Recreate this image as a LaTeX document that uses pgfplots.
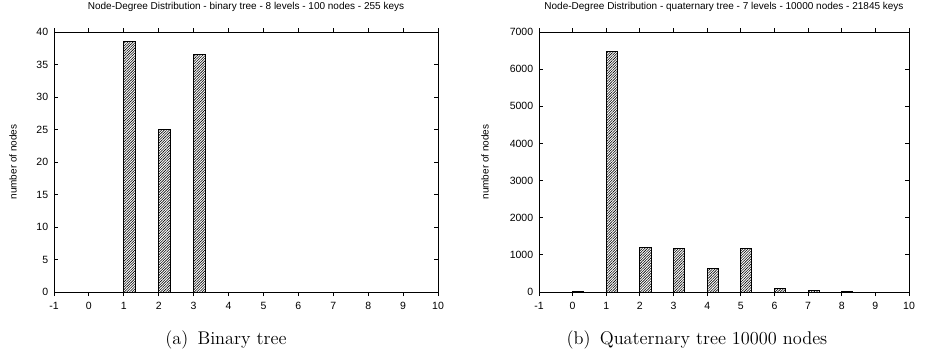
\documentclass[border=0pt]{standalone}
\usepackage{pgfplots}
\pgfplotsset{compat=1.18}
\usetikzlibrary{patterns.meta}
\usepackage{fontspec}
\newfontfamily\arial{Liberation Sans}

\pgfplotsset{
  gnu/.style={
    scale only axis,
    anchor=south west,
    height=156pt,
    xmin=-1, xmax=10,
    xtick={-1,0,...,10},
    ymin=0,
    axis line style={line width=0.6pt},
    major tick length=2.4pt,
    tick style={line width=0.5pt,black},
    ticklabel style={font=\arial\fontsize{6.3}{7}\selectfont},
    /pgf/number format/assume math mode=true,
    /pgf/number format/1000 sep={},
    title style={font=\arial\fontsize{6}{7}\selectfont,at={(0.5,1)},anchor=base,yshift=7.6pt},
    ybar, bar width=0.33, bar shift=0.165,
  },
  hatch/.style={draw=black, line width=0.6pt,
    pattern={Lines[angle=45,distance=1.1pt,line width=0.35pt]}},
}

\begin{document}
\begin{tikzpicture}
\path[use as bounding box] (0,0) rectangle (558pt,-212.4pt);

% (a) binary tree
\begin{axis}[gnu, at={(32.4pt,-175.2pt)}, width=230.4pt,
  ymax=40, ytick={0,5,...,40},
  title={Node-Degree Distribution - binary tree - 8 levels - 100 nodes - 255 keys}]
  \addplot[hatch] coordinates {(0,0) (1,38.5) (2,25) (3,36.5)};
\end{axis}
\node[rotate=90,font=\arial\fontsize{6}{7}\selectfont] at (7.8pt,-97.2pt) {number of nodes};
\node[font=\fontsize{11}{13}\selectfont] at (135.6pt,-204pt) {(a)\enspace Binary tree};

% (b) quaternary tree
\begin{axis}[gnu, at={(323.4pt,-175.2pt)}, width=222pt,
  ymax=7000, ytick={0,1000,...,7000},
  title={Node-Degree Distribution - quaternary tree - 7 levels - 10000 nodes - 21845 keys}]
  \addplot[hatch] coordinates {(0,10) (1,6480) (2,1210) (3,1170) (4,620) (5,1170) (6,90) (7,40) (8,10)};
\end{axis}
\node[rotate=90,font=\arial\fontsize{6}{7}\selectfont] at (291pt,-97.2pt) {number of nodes};
\node[font=\fontsize{11}{13}\selectfont] at (418.2pt,-204pt) {(b)\enspace Quaternary tree 10000 nodes};
\end{tikzpicture}
\end{document}
